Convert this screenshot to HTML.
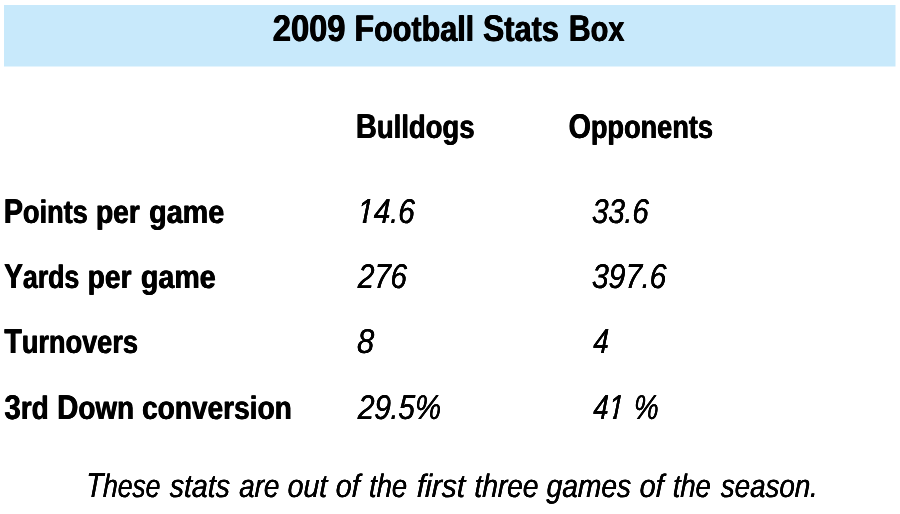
<!DOCTYPE html>
<html lang="en">
<head>
<meta charset="utf-8">
<title>2009 Football Stats Box</title>
<style>
html,body{margin:0;padding:0;background:#fff}
body{width:900px;height:514px;overflow:hidden;position:relative}
svg{display:block;position:absolute;left:0;top:0}
.m{fill:#fff}
text{font-family:"Liberation Sans",Arial,Helvetica,sans-serif;fill:#000;white-space:pre;text-rendering:geometricPrecision}
.kT{font-size:35.6px;font-weight:bold;font-style:normal;text-shadow:0.5px 0 0 #000,-0.5px 0 0 #000}
.kT .c{font-size:37.2px}
.kB{font-size:32.6px;font-weight:bold;font-style:normal;text-shadow:0.45px 0 0 #000,-0.45px 0 0 #000}
.kB .c{font-size:34.4px}
.kI{font-size:32.3px;font-weight:normal;font-style:italic;text-shadow:0.12px 0 0 #000,-0.12px 0 0 #000}
.kI .c{font-size:34.4px}
</style>
</head>
<body>
<svg width="900" height="514" viewBox="0 0 900 514">
<rect x="0" y="0" width="900" height="514" fill="#ffffff"/>
<rect id="band" x="4" y="5" width="891.5" height="61.5" fill="#c8e9fb"/>
<g id="g-title">
<text id="title" class="kT" transform="translate(0 41)"><tspan x="272.80" textLength="72.69" lengthAdjust="spacingAndGlyphs"><tspan class="c">2009</tspan></tspan> <tspan x="354.56" textLength="119.63" lengthAdjust="spacingAndGlyphs"><tspan class="c">F</tspan>ootball</tspan> <tspan x="482.89" textLength="75.96" lengthAdjust="spacingAndGlyphs"><tspan class="c">S</tspan>tats</tspan> <tspan x="568.87" textLength="55.55" lengthAdjust="spacingAndGlyphs"><tspan class="c">B</tspan>ox</tspan></text>
</g>
<g id="g-colhead">
<text id="h1" class="kB" transform="translate(0 138)"><tspan x="355.95" textLength="118.60" lengthAdjust="spacingAndGlyphs"><tspan class="c">B</tspan>ulldogs</tspan></text>
<text id="h2" class="kB" transform="translate(0 138)"><tspan x="568.63" textLength="144.36" lengthAdjust="spacingAndGlyphs"><tspan class="c">O</tspan>pponents</tspan></text>
</g>
<g id="g-row1">
<text id="r1" class="kB" transform="translate(0 223)"><tspan x="3.81" textLength="84.05" lengthAdjust="spacingAndGlyphs"><tspan class="c">P</tspan>oints</tspan> <tspan x="96.01" textLength="43.84" lengthAdjust="spacingAndGlyphs">per</tspan> <tspan x="149.20" textLength="75.07" lengthAdjust="spacingAndGlyphs">game</tspan></text>
<text id="a1" class="kI" transform="translate(0 223) skewX(-1.64)"><tspan x="357.02" textLength="57.46" lengthAdjust="spacingAndGlyphs"><tspan class="c">14</tspan>.<tspan class="c">6</tspan></tspan></text>
<text id="b1" class="kI" transform="translate(0 223) skewX(-1.78)"><tspan x="591.76" textLength="56.67" lengthAdjust="spacingAndGlyphs"><tspan class="c">33</tspan>.<tspan class="c">6</tspan></tspan></text>
</g>
<g id="g-row2">
<text id="r2" class="kB" transform="translate(0 288)"><tspan x="4.16" textLength="75.19" lengthAdjust="spacingAndGlyphs"><tspan class="c">Y</tspan>ards</tspan> <tspan x="87.72" textLength="43.79" lengthAdjust="spacingAndGlyphs">per</tspan> <tspan x="140.93" textLength="74.75" lengthAdjust="spacingAndGlyphs">game</tspan></text>
<text id="a2" class="kI" transform="translate(0 288) skewX(-1.79)"><tspan x="357.64" textLength="48.97" lengthAdjust="spacingAndGlyphs"><tspan class="c">276</tspan></tspan></text>
<text id="b2" class="kI" transform="translate(0 288) skewX(-1.60)"><tspan x="591.76" textLength="74.30" lengthAdjust="spacingAndGlyphs"><tspan class="c">397</tspan>.<tspan class="c">6</tspan></tspan></text>
</g>
<g id="g-row3">
<text id="r3" class="kB" transform="translate(0 353)"><tspan x="4.36" textLength="133.65" lengthAdjust="spacingAndGlyphs"><tspan class="c">T</tspan>urnovers</tspan></text>
<text id="a3" class="kI" transform="translate(0 353) skewX(-1.31)"><tspan x="356.83" textLength="17.09" lengthAdjust="spacingAndGlyphs"><tspan class="c">8</tspan></tspan></text>
<text id="b3" class="kI" transform="translate(0 353) skewX(-2.35)"><tspan x="592.99" textLength="15.44" lengthAdjust="spacingAndGlyphs"><tspan class="c">4</tspan></tspan></text>
</g>
<g id="g-row4">
<text id="r4" class="kB" transform="translate(0 419)"><tspan x="4.43" textLength="44.37" lengthAdjust="spacingAndGlyphs"><tspan class="c">3</tspan>rd</tspan> <tspan x="57.23" textLength="76.79" lengthAdjust="spacingAndGlyphs"><tspan class="c">D</tspan>own</tspan> <tspan x="142.03" textLength="149.83" lengthAdjust="spacingAndGlyphs">conversion</tspan></text>
<text id="a4" class="kI" transform="translate(0 419) skewX(-1.73)"><tspan x="357.64" textLength="83.20" lengthAdjust="spacingAndGlyphs"><tspan class="c">29</tspan>.<tspan class="c">5%</tspan></tspan></text>
<text id="b4" class="kI" transform="translate(0 419) skewX(-2.37)"><tspan x="593.02" textLength="30.45" lengthAdjust="spacingAndGlyphs"><tspan class="c">41</tspan></tspan> <tspan x="633.35" textLength="24.99" lengthAdjust="spacingAndGlyphs"><tspan class="c">%</tspan></tspan></text>
</g>
<g id="g-note">
<text id="foot" class="kI" transform="translate(0 497) skewX(-1.65)"><tspan x="85.69" textLength="74.44" lengthAdjust="spacingAndGlyphs"><tspan class="c">T</tspan>hese</tspan> <tspan x="169.55" textLength="60.20" lengthAdjust="spacingAndGlyphs">stats</tspan> <tspan x="239.01" textLength="40.10" lengthAdjust="spacingAndGlyphs">are</tspan> <tspan x="287.44" textLength="39.50" lengthAdjust="spacingAndGlyphs">out</tspan> <tspan x="335.49" textLength="23.95" lengthAdjust="spacingAndGlyphs">of</tspan> <tspan x="368.92" textLength="37.93" lengthAdjust="spacingAndGlyphs">the</tspan> <tspan x="416.52" textLength="48.38" lengthAdjust="spacingAndGlyphs">first</tspan> <tspan x="474.26" textLength="63.93" lengthAdjust="spacingAndGlyphs">three</tspan> <tspan x="546.46" textLength="84.37" lengthAdjust="spacingAndGlyphs">games</tspan> <tspan x="639.43" textLength="23.92" lengthAdjust="spacingAndGlyphs">of</tspan> <tspan x="672.65" textLength="37.85" lengthAdjust="spacingAndGlyphs">the</tspan> <tspan x="720.68" textLength="96.95" lengthAdjust="spacingAndGlyphs">season.</tspan></text>
</g>
<polygon class="m" points="355.50,219.20 363.22,219.20 362.42,224.20 355.50,224.20"/>
<polygon class="m" points="367.05,219.20 372.50,219.20 372.50,224.20 366.08,224.20"/>
<polygon class="m" points="607.50,415.20 613.58,415.20 612.55,420.20 607.50,420.20"/>
<polygon class="m" points="617.21,415.20 622.50,415.20 622.50,420.20 616.16,420.20"/>
</svg>
</body>
</html>
